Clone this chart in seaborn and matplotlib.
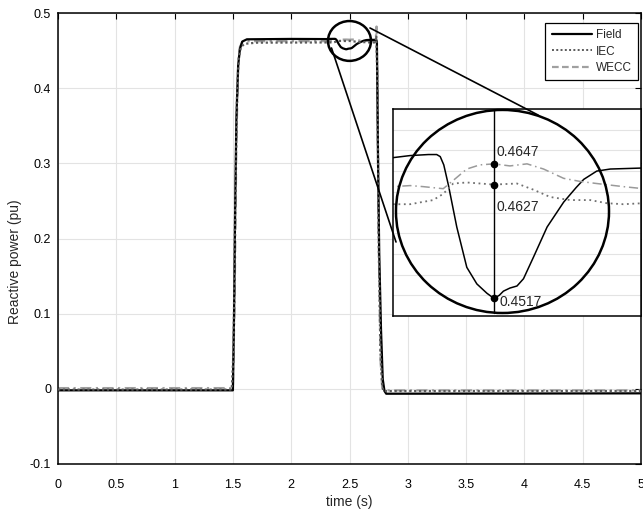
import numpy as np
import pandas as pd
import seaborn as sns
import matplotlib
matplotlib.use('Agg')
import matplotlib.pyplot as plt
from matplotlib.lines import Line2D
from matplotlib.patches import Ellipse

# --- data ---
t_field = [0, 1.50, 1.51, 1.52, 1.53, 1.545, 1.56, 1.58, 1.62, 2.0,
           2.300, 2.329, 2.360, 2.374, 2.380, 2.386, 2.394, 2.408, 2.425, 2.442, 2.459, 2.471,
           2.480, 2.487, 2.498, 2.510, 2.521, 2.538, 2.561, 2.589, 2.610, 2.623, 2.645, 2.668, 2.724,
           2.735, 2.745, 2.755, 2.77, 2.785, 2.80, 2.815, 5.0]
q_field = [-0.002, -0.002, 0.10, 0.25, 0.36, 0.43, 0.452, 0.462, 0.465, 0.4655,
           0.4653, 0.4655, 0.4656, 0.4656, 0.4654, 0.4646, 0.4626, 0.4586, 0.4547, 0.4531, 0.4522, 0.4517,
           0.4520, 0.4524, 0.4527, 0.4529, 0.4536, 0.4557, 0.4586, 0.4610, 0.4624, 0.4632, 0.4640, 0.4642, 0.4643,
           0.462, 0.30, 0.18, 0.08, 0.013, -0.003, -0.0065, -0.006]

t_iec = [0, 1.49, 1.505, 1.52, 1.535, 1.55, 1.57, 1.60, 1.70, 2.0,
         2.3005, 2.329, 2.368, 2.385, 2.402, 2.425, 2.471, 2.510, 2.538, 2.566,
         2.600, 2.634, 2.662, 2.690, 2.724,
         2.73, 2.74, 2.75, 2.765, 2.78, 2.79, 5.0]
q_iec = [-0.001, -0.001, 0.05, 0.25, 0.39, 0.44, 0.455, 0.459, 0.4605, 0.4607,
         0.4608, 0.4608, 0.4612, 0.4618, 0.4628, 0.4629, 0.4627, 0.4628, 0.4622, 0.4615,
         0.4612, 0.4612, 0.4609, 0.4608, 0.4609,
         0.470, 0.40, 0.20, 0.05, 0.005, -0.003, -0.003]

t_wecc = [0, 1.50, 1.515, 1.53, 1.545, 1.56, 1.58, 1.62, 2.0,
          2.3005, 2.329, 2.351, 2.368, 2.385, 2.402, 2.425, 2.447, 2.471, 2.498,
          2.527, 2.555, 2.589, 2.617, 2.645, 2.690, 2.724,
          2.732, 2.74, 2.75, 2.765, 2.78, 2.80, 5.0]
q_wecc = [0.001, 0.001, 0.12, 0.33, 0.43, 0.455, 0.461, 0.4625, 0.4625,
          0.4625, 0.4626, 0.4625, 0.4624, 0.4623, 0.4631, 0.4642, 0.4646, 0.4647, 0.4645,
          0.4647, 0.4642, 0.4633, 0.4630, 0.4628, 0.4625, 0.4623,
          0.482, 0.40, 0.20, 0.04, 0.002, -0.002, -0.002]

marker_t = 2.471
marker_vals = [0.4647, 0.4627, 0.4517]
marker_text = ['0.4647', '0.4627', '0.4517']

sns.set_style('white')
plt.rcParams['font.family'] = ['Liberation Sans', 'DejaVu Sans']
plt.rcParams['axes.unicode_minus'] = False

W, H = 643, 512
fig = plt.figure(figsize=(W / 100, H / 100), dpi=100)

def fx(x):
    return x / W

def fy(y):
    return 1 - y / H

ax = fig.add_axes([fx(58), fy(464), 583 / W, 451 / H])

c_iec = '#5a5a5a'
c_wecc = '#a0a0a0'

sns.lineplot(x=t_field, y=q_field, ax=ax, color='k', linewidth=1.6, errorbar=None, sort=False, zorder=3)
sns.lineplot(x=t_iec, y=q_iec, ax=ax, color=c_iec, linewidth=1.6, linestyle=(0, (1, 1.2)), errorbar=None, sort=False, zorder=4)
sns.lineplot(x=t_wecc, y=q_wecc, ax=ax, color=c_wecc, linewidth=1.6, linestyle=(0, (5, 2, 1, 2)), errorbar=None, sort=False, zorder=2)

ax.set_xlim(0, 5)
ax.set_ylim(-0.1, 0.5)
xt = np.arange(0, 5.01, 0.5)
yt = np.arange(-0.1, 0.501, 0.1)
ax.set_xticks(xt)
ax.set_xticklabels(['%g' % v for v in xt])
ax.set_yticks(yt)
ax.set_yticklabels(['%g' % round(v, 1) for v in yt])
ax.tick_params(direction='in', length=4, width=0.8, top=True, right=True,
               labelsize=9, colors='k', pad=5)
ax.tick_params(axis='x', pad=11)
ax.grid(True, color='#e3e3e3', linewidth=0.8)
for s in ax.spines.values():
    s.set_color('k')
    s.set_linewidth(1.1)
ax.set_xlabel('time (s)', fontsize=10, labelpad=3)
ax.set_ylabel('Reactive power (pu)', fontsize=10)
ax.yaxis.set_label_coords(-0.062, 0.448)

handles = [Line2D([], [], color='k', lw=1.6),
           Line2D([], [], color=c_iec, lw=1.4, linestyle=(0, (1, 1.2))),
           Line2D([], [], color=c_wecc, lw=1.6, linestyle=(0, (3, 1.5)))]
leg = ax.legend(handles, ['Field', 'IEC', 'WECC'], loc='upper right',
                bbox_to_anchor=(0.995, 0.978), fontsize=8.5, frameon=True,
                fancybox=False, edgecolor='k', framealpha=1,
                handlelength=3.4, handletextpad=0.3, borderpad=0.55,
                labelspacing=0.35, borderaxespad=0)
leg.get_frame().set_linewidth(0.9)
leg.set_zorder(10)

# small zoom circle on the main plot
ax.add_patch(Ellipse((2.50, 0.4628), 0.369, 0.053, fill=False, color='k',
                     lw=1.8, clip_on=False, zorder=6))

# inset
ax_in = fig.add_axes([fx(393), fy(316), 248 / W, 207 / H])
ax_in.set_facecolor('white')
sns.lineplot(x=t_field, y=q_field, ax=ax_in, color='k', linewidth=1.1, errorbar=None, sort=False)
sns.lineplot(x=t_iec, y=q_iec, ax=ax_in, color='#707070', linewidth=1.3, linestyle=(0, (1, 2)), errorbar=None, sort=False)
sns.lineplot(x=t_wecc, y=q_wecc, ax=ax_in, color='#9a9a9a', linewidth=1.1, linestyle=(0, (6, 2.5, 1, 2.5)), errorbar=None, sort=False)
ax_in.set_xlim(2.30, 2.72)
ax_in.set_ylim(0.450, 0.470)
ax_in.set_yticks(np.arange(0.450, 0.4701, 0.002))
ax_in.set_xticks([])
ax_in.tick_params(length=0, labelleft=False, labelbottom=False)
ax_in.grid(True, axis='y', color='#e3e3e3', linewidth=0.8)
ax_in.set_xlabel('')
ax_in.set_ylabel('')
for s in ax_in.spines.values():
    s.set_color('k')
    s.set_linewidth(1.1)

ax_in.axvline(marker_t, ymin=0.0145, ymax=0.995, color='k', lw=1.0)
ax_in.plot([marker_t] * 3, marker_vals, 'o', color='k', ms=4.5, zorder=5)
ax_in.text(2.4755, 0.4658, marker_text[0], fontsize=10, va='center', ha='left')
ax_in.text(2.4755, 0.4605, marker_text[1], fontsize=10, va='center', ha='left')
ax_in.text(2.4805, 0.4514, marker_text[2], fontsize=10, va='center', ha='left')
ax_in.add_patch(Ellipse((0.4415, 0.505), 0.859, 0.981, transform=ax_in.transAxes,
                        fill=False, color='k', lw=1.8, clip_on=False, zorder=6))

# connector lines
for (x0, y0), (x1, y1) in [((331.5, 48), (396, 242)), ((370, 28), (538, 115))]:
    fig.add_artist(Line2D([fx(x0), fx(x1)], [fy(y0), fy(y1)], color='k', lw=1.2, zorder=20))

fig.savefig('out.png', dpi=100)
